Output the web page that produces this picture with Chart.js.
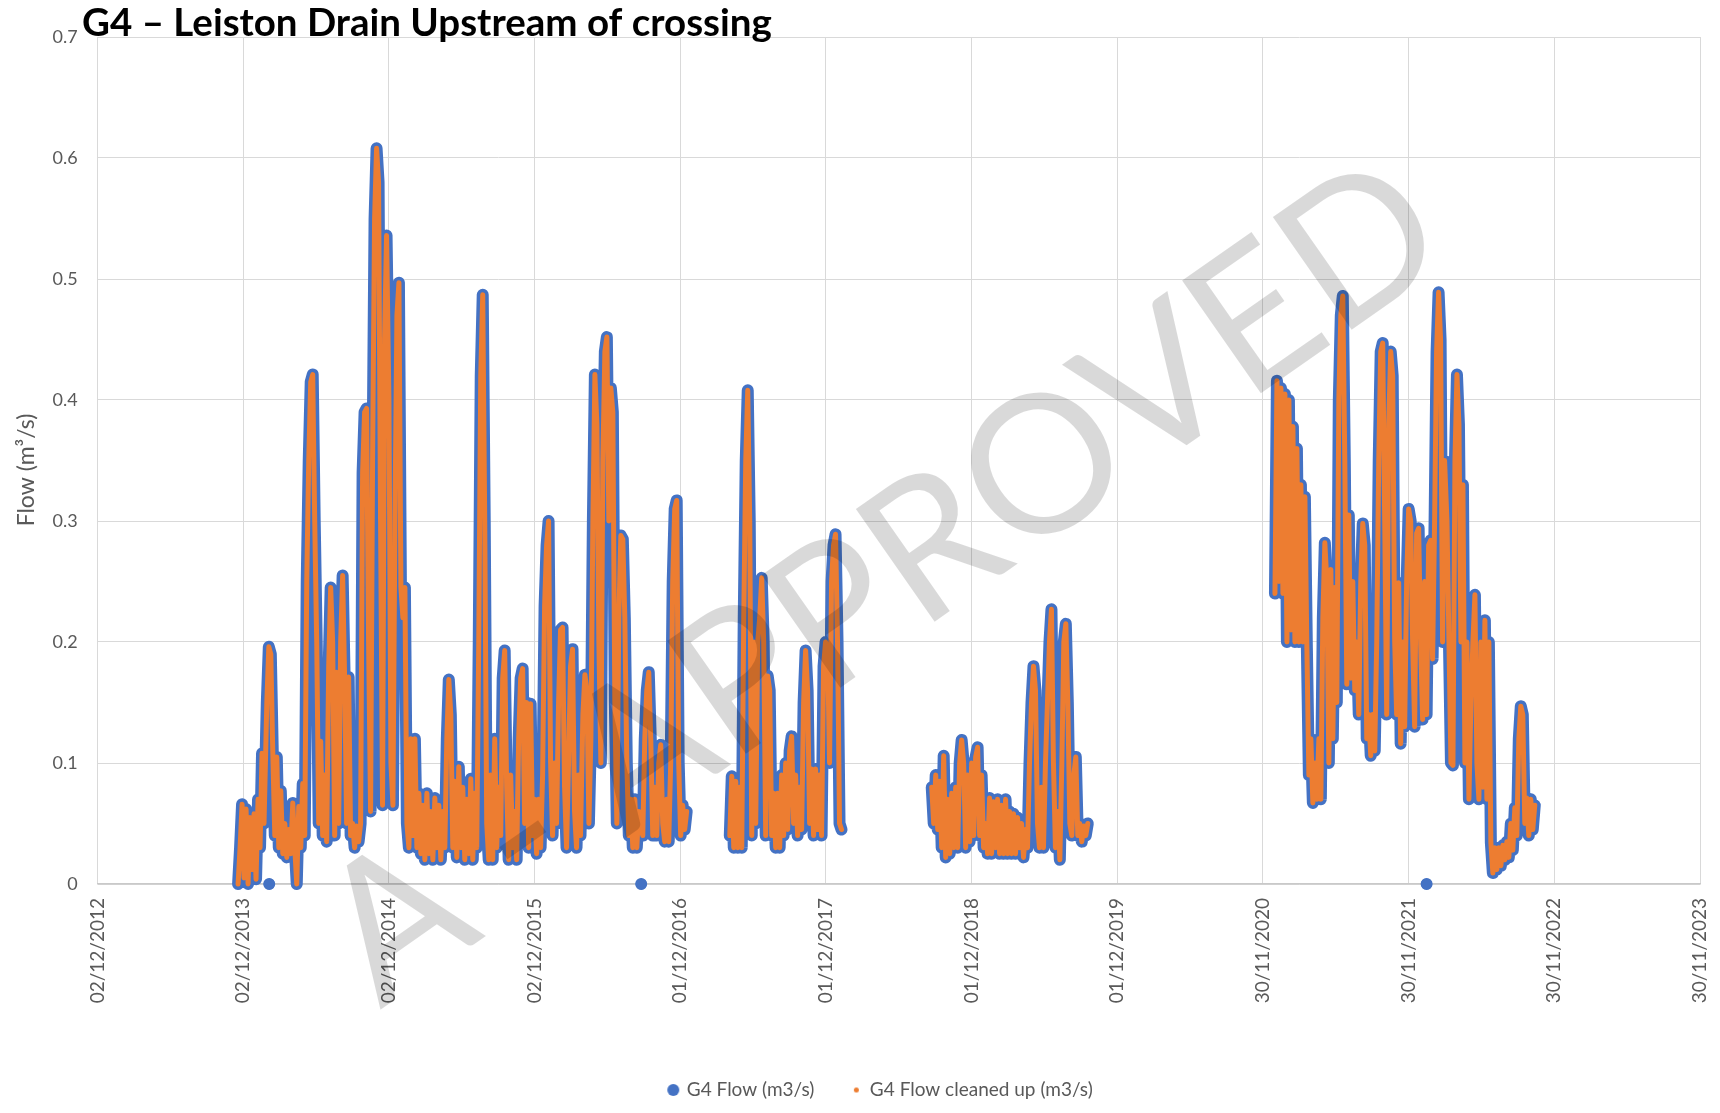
<!DOCTYPE html>
<html>
<head>
<meta charset="utf-8">
<title>G4 – Leiston Drain Upstream of crossing</title>
<script src="https://cdn.jsdelivr.net/npm/chart.js@4.4.1/dist/chart.umd.min.js"></script>
<style>
  html, body { margin: 0; padding: 0; background: #fff; }
  #flowChart { display: block; }
</style>
</head>
<body>
<canvas id="flowChart" width="1720" height="1113" style="width:1720px;height:1113px"></canvas>
<script>
const chartTitle = 'G4 – Leiston Drain Upstream of crossing';
const yAxisTitle = 'Flow (m³/s)';
const seriesNames = ['G4 Flow (m3/s)', 'G4 Flow cleaned up (m3/s)'];
const watermarkText = 'A - APPROVED';

const xTickDates = ['2012-12-02', '2013-12-02', '2014-12-02', '2015-12-02', '2016-12-01', '2017-12-01',
  '2018-12-01', '2019-12-01', '2020-11-30', '2021-11-30', '2022-11-30', '2023-11-30'];
const yTickValues = [0, 0.1, 0.2, 0.3, 0.4, 0.5, 0.6, 0.7];

// flow readings (m3/s)
const flow2013to2016 = [
  ['2013-11-19',0.000],['2013-11-24',0.030],['2013-11-29',0.066],['2013-12-04',0.005],['2013-12-09',0.062],
  ['2013-12-14',0.000],['2013-12-19',0.055],['2013-12-24',0.012],['2013-12-29',0.058],['2014-01-03',0.004],
  ['2014-01-08',0.070],['2014-01-13',0.030],['2014-01-18',0.108],['2014-01-23',0.050],['2014-01-30',0.150],
  ['2014-02-04',0.196],['2014-02-09',0.190],['2014-02-14',0.108],['2014-02-19',0.040],['2014-02-24',0.105],
  ['2014-03-01',0.030],['2014-03-06',0.077],['2014-03-11',0.025],['2014-03-16',0.050],['2014-03-21',0.022],
  ['2014-03-26',0.045],['2014-03-31',0.025],['2014-04-05',0.067],['2014-04-10',0.030],['2014-04-15',0.000],
  ['2014-04-20',0.064],['2014-04-25',0.030],['2014-04-30',0.083],['2014-05-05',0.040],['2014-05-10',0.250],
  ['2014-05-15',0.350],['2014-05-20',0.415],['2014-05-25',0.421],['2014-05-30',0.300],['2014-06-04',0.200],
  ['2014-06-09',0.050],['2014-06-14',0.118],['2014-06-19',0.040],['2014-06-24',0.090],['2014-06-29',0.035],
  ['2014-07-04',0.180],['2014-07-09',0.245],['2014-07-14',0.200],['2014-07-19',0.040],['2014-07-24',0.175],
  ['2014-07-29',0.050],['2014-08-03',0.200],['2014-08-08',0.255],['2014-08-13',0.170],['2014-08-18',0.050],
  ['2014-08-23',0.171],['2014-08-28',0.040],['2014-09-02',0.050],['2014-09-07',0.030],['2014-09-12',0.048],
  ['2014-09-17',0.035],['2014-09-22',0.050],['2014-09-27',0.340],['2014-10-02',0.390],['2014-10-07',0.393],
  ['2014-10-12',0.200],['2014-10-17',0.060],['2014-10-22',0.350],['2014-10-27',0.550],['2014-11-01',0.608],
  ['2014-11-06',0.580],['2014-11-11',0.300],['2014-11-16',0.065],['2014-11-21',0.450],['2014-11-26',0.536],
  ['2014-12-02',0.400],['2014-12-07',0.100],['2014-12-12',0.065],['2014-12-17',0.300],['2014-12-22',0.470],
  ['2014-12-27',0.497],['2015-01-01',0.245],['2015-01-06',0.220],['2015-01-11',0.245],['2015-01-16',0.050],
  ['2015-01-21',0.030],['2015-01-26',0.120],['2015-01-31',0.040],['2015-02-05',0.120],['2015-02-10',0.030],
  ['2015-02-15',0.075],['2015-02-20',0.025],['2015-02-25',0.065],['2015-03-02',0.020],['2015-03-07',0.075],
  ['2015-03-12',0.025],['2015-03-17',0.060],['2015-03-22',0.020],['2015-03-27',0.071],['2015-04-01',0.030],
  ['2015-04-06',0.065],['2015-04-11',0.020],['2015-04-16',0.060],['2015-04-21',0.030],['2015-04-26',0.120],
  ['2015-05-01',0.169],['2015-05-06',0.140],['2015-05-11',0.030],['2015-05-16',0.085],['2015-05-21',0.022],
  ['2015-05-26',0.097],['2015-05-31',0.030],['2015-06-05',0.080],['2015-06-10',0.020],['2015-06-15',0.070],
  ['2015-06-20',0.025],['2015-06-25',0.087],['2015-06-30',0.020],['2015-07-05',0.075],['2015-07-10',0.030],
  ['2015-07-15',0.200],['2015-07-20',0.420],['2015-07-25',0.487],['2015-07-30',0.300],['2015-08-04',0.050],
  ['2015-08-09',0.020],['2015-08-14',0.090],['2015-08-19',0.020],['2015-08-24',0.120],['2015-08-29',0.030],
  ['2015-09-03',0.080],['2015-09-08',0.040],['2015-09-13',0.170],['2015-09-18',0.193],['2015-09-23',0.080],
  ['2015-09-28',0.020],['2015-10-03',0.090],['2015-10-08',0.030],['2015-10-13',0.060],['2015-10-18',0.020],
  ['2015-10-23',0.120],['2015-10-28',0.170],['2015-11-02',0.178],['2015-11-07',0.050],['2015-11-12',0.150],
  ['2015-11-17',0.030],['2015-11-22',0.149],['2015-11-27',0.040],['2015-12-02',0.070],['2015-12-07',0.025],
  ['2015-12-12',0.070],['2015-12-17',0.030],['2015-12-22',0.090],['2015-12-27',0.230],['2016-01-01',0.280],
  ['2016-01-06',0.300],['2016-01-11',0.100],['2016-01-16',0.040],['2016-01-21',0.100],['2016-01-26',0.050],
  ['2016-01-31',0.150],['2016-02-05',0.210],['2016-02-10',0.212],['2016-02-15',0.080],['2016-02-20',0.030],
  ['2016-02-25',0.100],['2016-03-01',0.180],['2016-03-06',0.194],['2016-03-11',0.060],['2016-03-16',0.030],
  ['2016-03-21',0.090],['2016-03-26',0.040],['2016-04-01',0.140],['2016-04-06',0.173],['2016-04-11',0.160],
  ['2016-04-16',0.050],['2016-04-21',0.120],['2016-04-26',0.300],['2016-05-01',0.421],['2016-05-06',0.380],
  ['2016-05-11',0.200],['2016-05-16',0.100],['2016-05-21',0.350],['2016-05-26',0.440],['2016-05-31',0.452],
  ['2016-06-05',0.300],['2016-06-10',0.410],['2016-06-15',0.390],['2016-06-20',0.150],['2016-06-25',0.050],
  ['2016-06-30',0.220],['2016-07-05',0.288],['2016-07-10',0.285],['2016-07-15',0.220],['2016-07-20',0.100],
  ['2016-07-25',0.040],['2016-07-30',0.070],['2016-08-04',0.030],['2016-08-09',0.070],['2016-08-14',0.030],
  ['2016-08-19',0.060],['2016-08-29',0.040],['2016-09-03',0.120],['2016-09-08',0.160],['2016-09-13',0.175],
  ['2016-09-18',0.120],['2016-09-23',0.040],['2016-09-28',0.080],['2016-10-03',0.040],['2016-10-08',0.100],
  ['2016-10-13',0.115],['2016-10-18',0.050],['2016-10-23',0.035],['2016-10-28',0.070],['2016-11-02',0.035],
  ['2016-11-07',0.100],['2016-11-12',0.250],['2016-11-17',0.310],['2016-11-22',0.317],['2016-11-27',0.100],
  ['2016-12-02',0.040],['2016-12-07',0.065],['2016-12-12',0.045],['2016-12-17',0.060]
];

const flow2017 = [
  ['2017-04-04',0.040],['2017-04-09',0.089],['2017-04-14',0.030],['2017-04-19',0.085],['2017-04-24',0.030],
  ['2017-04-29',0.080],['2017-05-04',0.030],['2017-05-09',0.220],['2017-05-14',0.350],['2017-05-19',0.408],
  ['2017-05-24',0.300],['2017-05-29',0.040],['2017-06-03',0.200],['2017-06-08',0.050],['2017-06-13',0.200],
  ['2017-06-18',0.220],['2017-06-23',0.253],['2017-06-28',0.200],['2017-07-03',0.040],['2017-07-08',0.172],
  ['2017-07-13',0.160],['2017-07-18',0.040],['2017-07-23',0.075],['2017-07-28',0.030],['2017-08-02',0.075],
  ['2017-08-07',0.030],['2017-08-12',0.090],['2017-08-17',0.040],['2017-08-22',0.100],['2017-08-27',0.045],
  ['2017-09-01',0.110],['2017-09-06',0.122],['2017-09-11',0.050],['2017-09-16',0.090],['2017-09-21',0.040],
  ['2017-09-26',0.080],['2017-10-01',0.045],['2017-10-06',0.150],['2017-10-11',0.193],['2017-10-16',0.160],
  ['2017-10-21',0.050],['2017-10-26',0.095],['2017-10-31',0.040],['2017-11-05',0.095],['2017-11-10',0.045],
  ['2017-11-15',0.090],['2017-11-20',0.040],['2017-11-25',0.180],['2017-11-30',0.200],['2017-12-05',0.195],
  ['2017-12-10',0.100],['2017-12-15',0.250],['2017-12-20',0.280],['2017-12-25',0.289],['2017-12-30',0.200],
  ['2018-01-04',0.050],['2018-01-09',0.045]
];

const flow2018to2019 = [
  ['2018-08-23',0.080],['2018-08-28',0.050],['2018-09-02',0.090],['2018-09-07',0.045],['2018-09-12',0.085],
  ['2018-09-17',0.030],['2018-09-22',0.106],['2018-09-27',0.022],['2018-10-02',0.070],['2018-10-07',0.025],
  ['2018-10-12',0.075],['2018-10-17',0.030],['2018-10-22',0.080],['2018-10-27',0.030],['2018-11-01',0.100],
  ['2018-11-06',0.119],['2018-11-11',0.100],['2018-11-16',0.030],['2018-11-21',0.090],['2018-11-26',0.035],
  ['2018-12-01',0.100],['2018-12-06',0.040],['2018-12-11',0.105],['2018-12-16',0.113],['2018-12-21',0.040],
  ['2018-12-26',0.090],['2018-12-31',0.030],['2019-01-05',0.050],['2019-01-10',0.025],['2019-01-15',0.071],
  ['2019-01-20',0.025],['2019-01-25',0.068],['2019-01-30',0.030],['2019-02-04',0.070],['2019-02-09',0.025],
  ['2019-02-14',0.065],['2019-02-19',0.025],['2019-02-24',0.070],['2019-03-01',0.025],['2019-03-06',0.060],
  ['2019-03-11',0.025],['2019-03-16',0.058],['2019-03-21',0.025],['2019-03-26',0.055],['2019-03-31',0.030],
  ['2019-04-05',0.050],['2019-04-10',0.022],['2019-04-15',0.045],['2019-04-20',0.030],['2019-04-25',0.100],
  ['2019-04-30',0.150],['2019-05-05',0.180],['2019-05-10',0.160],['2019-05-15',0.050],['2019-05-20',0.030],
  ['2019-05-25',0.080],['2019-05-30',0.030],['2019-06-04',0.100],['2019-06-09',0.150],['2019-06-14',0.200],
  ['2019-06-19',0.227],['2019-06-24',0.100],['2019-06-29',0.030],['2019-07-05',0.060],['2019-07-10',0.020],
  ['2019-07-15',0.100],['2019-07-20',0.200],['2019-07-25',0.215],['2019-07-30',0.150],['2019-08-04',0.050],
  ['2019-08-09',0.040],['2019-08-14',0.090],['2019-08-19',0.105],['2019-08-24',0.040],['2019-08-29',0.050],
  ['2019-09-03',0.035],['2019-09-08',0.048],['2019-09-13',0.040],['2019-09-18',0.050]
];

const flow2021to2022 = [
  ['2020-12-30',0.240],['2021-01-04',0.416],['2021-01-09',0.250],['2021-01-14',0.410],['2021-01-19',0.240],
  ['2021-01-24',0.405],['2021-01-29',0.200],['2021-02-03',0.400],['2021-02-08',0.210],['2021-02-13',0.378],
  ['2021-02-18',0.200],['2021-02-23',0.360],['2021-02-28',0.200],['2021-03-05',0.330],['2021-03-10',0.200],
  ['2021-03-15',0.320],['2021-03-20',0.195],['2021-03-25',0.090],['2021-03-30',0.120],['2021-04-04',0.067],
  ['2021-04-09',0.100],['2021-04-14',0.070],['2021-04-19',0.120],['2021-04-24',0.070],['2021-04-29',0.220],
  ['2021-05-04',0.282],['2021-05-09',0.250],['2021-05-14',0.100],['2021-05-19',0.260],['2021-05-24',0.120],
  ['2021-05-29',0.245],['2021-06-03',0.150],['2021-06-08',0.400],['2021-06-13',0.470],['2021-06-18',0.486],
  ['2021-06-23',0.350],['2021-06-28',0.165],['2021-07-03',0.305],['2021-07-08',0.170],['2021-07-13',0.250],
  ['2021-07-18',0.160],['2021-07-23',0.200],['2021-07-28',0.140],['2021-08-02',0.250],['2021-08-07',0.298],
  ['2021-08-12',0.280],['2021-08-17',0.120],['2021-08-22',0.140],['2021-08-27',0.106],['2021-09-01',0.140],
  ['2021-09-06',0.110],['2021-09-11',0.200],['2021-09-16',0.350],['2021-09-21',0.440],['2021-09-26',0.447],
  ['2021-10-01',0.300],['2021-10-06',0.140],['2021-10-11',0.380],['2021-10-16',0.440],['2021-10-21',0.420],
  ['2021-10-26',0.200],['2021-10-31',0.140],['2021-11-05',0.249],['2021-11-10',0.116],['2021-11-15',0.200],
  ['2021-11-20',0.130],['2021-11-25',0.250],['2021-11-30',0.310],['2021-12-05',0.300],['2021-12-10',0.200],
  ['2021-12-15',0.130],['2021-12-20',0.290],['2021-12-25',0.294],['2021-12-30',0.200],['2022-01-04',0.136],
  ['2022-01-09',0.250],['2022-01-14',0.140],['2022-01-19',0.280],['2022-01-24',0.284],['2022-01-29',0.186],
  ['2022-02-03',0.300],['2022-02-08',0.440],['2022-02-13',0.489],['2022-02-18',0.450],['2022-02-23',0.200],
  ['2022-02-28',0.350],['2022-03-06',0.300],['2022-03-11',0.200],['2022-03-16',0.100],['2022-03-21',0.098],
  ['2022-03-26',0.350],['2022-03-31',0.421],['2022-04-05',0.380],['2022-04-10',0.200],['2022-04-15',0.330],
  ['2022-04-20',0.100],['2022-04-25',0.200],['2022-04-30',0.070],['2022-05-05',0.150],['2022-05-10',0.200],
  ['2022-05-15',0.239],['2022-05-20',0.100],['2022-05-25',0.070],['2022-05-30',0.200],['2022-06-04',0.080],
  ['2022-06-09',0.218],['2022-06-14',0.070],['2022-06-19',0.200],['2022-06-24',0.034],['2022-06-29',0.009],
  ['2022-07-04',0.030],['2022-07-09',0.012],['2022-07-14',0.030],['2022-07-19',0.015],['2022-07-24',0.032],
  ['2022-07-29',0.020],['2022-08-03',0.035],['2022-08-08',0.022],['2022-08-13',0.050],['2022-08-18',0.028],
  ['2022-08-23',0.063],['2022-08-28',0.040],['2022-09-02',0.120],['2022-09-07',0.147],['2022-09-12',0.140],
  ['2022-09-17',0.050],['2022-09-22',0.071],['2022-09-27',0.040],['2022-10-02',0.070],['2022-10-07',0.045],
  ['2022-10-12',0.065]
];

// zero readings that only appear in the raw series (dropped in the clean-up)
const zeroReadings = ['2014-02-05', '2016-08-25', '2022-01-14'];

const BLUE = '#4472C4';
const ORANGE = '#ED7D31';
const GREY_TEXT = '#595959';

// x values are days counted from the first axis date
const dayZero = Date.UTC(2012, 11, 2);
function toDay(s) {
    const [y, m, d] = s.split('-').map(Number);
    return (Date.UTC(y, m - 1, d) - dayZero) / 86400000;
}
function toLabel(s) {
    const [y, m, d] = s.split('-');
    return `${d}/${m}/${y}`;
}

// join the logger runs, with a null between them so the line breaks at the gaps
const segments = [flow2013to2016, flow2017, flow2018to2019, flow2021to2022];
const cleanedPoints = [];
segments.forEach((seg, i) => {
    if (i > 0) cleanedPoints.push({ x: toDay(seg[0][0]) - 1, y: null });
    seg.forEach(([date, v]) => cleanedPoints.push({ x: toDay(date), y: v }));
});
const rawPoints = cleanedPoints.slice();
zeroReadings.forEach(date => {
    rawPoints.push({ x: toDay(date), y: null });
    rawPoints.push({ x: toDay(date), y: 0, lone: true });
});

// little round markers for the legend (big blue, small orange like the plot)
function makeDot(r, color) {
    const c = document.createElement('canvas');
    c.width = c.height = Math.ceil(r * 2) + 2;
    const g = c.getContext('2d');
    g.fillStyle = color;
    g.beginPath();
    g.arc(c.width / 2, c.height / 2, r, 0, Math.PI * 2);
    g.fill();
    return c;
}
const legendDots = [makeDot(6, BLUE), makeDot(2.5, ORANGE)];

const overlayPlugin = {
    id: 'overlay',
    afterLayout(chart) {
        // Excel centres the legend a bit right of the canvas middle
        chart.legend.left += 31;
        chart.legend.right += 31;
    },
    afterDraw(chart) {
        const ctx = chart.ctx;

        // y axis title, centred a little below the plot middle like Excel does
        ctx.save();
        ctx.translate(27, 470);
        ctx.rotate(-Math.PI / 2);
        ctx.font = '23px Lato, "Open Sans", sans-serif';
        ctx.fillStyle = GREY_TEXT;
        ctx.textAlign = 'center';
        ctx.textBaseline = 'middle';
        ctx.fillText(yAxisTitle, 0, 0);
        ctx.restore();

        // approval stamp: ink runs 1306px along the baseline from the first A's foot
        ctx.save();
        ctx.font = '200px Lato, "Open Sans", sans-serif';
        let m = ctx.measureText(watermarkText);
        const stampSize = 200 * 1306 / (m.actualBoundingBoxLeft + m.actualBoundingBoxRight);
        ctx.font = stampSize.toFixed(1) + 'px Lato, "Open Sans", sans-serif';
        m = ctx.measureText(watermarkText);
        ctx.translate(380, 1010);
        ctx.rotate(-35 * Math.PI / 180);
        ctx.fillStyle = 'rgba(0, 0, 0, 0.15)';
        ctx.textAlign = 'left';
        ctx.textBaseline = 'alphabetic';
        ctx.fillText(watermarkText, m.actualBoundingBoxLeft, 0);
        ctx.restore();

        ctx.save();
        ctx.font = 'bold 38.5px Lato, "Open Sans", sans-serif';
        ctx.fillStyle = '#000';
        ctx.textAlign = 'left';
        ctx.textBaseline = 'alphabetic';
        ctx.fillText(chartTitle, 82, 36);
        ctx.restore();
    }
};

Chart.defaults.font.family = 'Lato, "Open Sans", sans-serif';

const ctx = document.getElementById('flowChart').getContext('2d');
const flowChart = new Chart(ctx, {
    type: 'scatter',
    data: {
        datasets: [{
            label: seriesNames[0],
            data: rawPoints,
            showLine: true,
            spanGaps: false,
            borderColor: BLUE,
            backgroundColor: BLUE,
            borderWidth: 12,
            borderJoinStyle: 'round',
            borderCapStyle: 'round',
            pointRadius: c => (c.raw && c.raw.lone) ? 5.5 : 0,
            pointBorderWidth: 0,
            pointBackgroundColor: BLUE,
            clip: false,
            order: 2
        }, {
            label: seriesNames[1],
            data: cleanedPoints,
            showLine: true,
            spanGaps: false,
            borderColor: ORANGE,
            backgroundColor: ORANGE,
            borderWidth: 5,
            borderJoinStyle: 'round',
            borderCapStyle: 'round',
            pointRadius: 0,
            clip: false,
            order: 1
        }]
    },
    options: {
        responsive: false,
        animation: false,
        events: [],
        layout: { padding: { top: 37, right: 20, bottom: 3.5, left: 0 } },
        scales: {
            x: {
                type: 'linear',
                min: toDay(xTickDates[0]),
                max: toDay(xTickDates[xTickDates.length - 1]),
                afterBuildTicks: scale => {
                    scale.ticks = xTickDates.map(d => ({ value: toDay(d) }));
                },
                afterFit: scale => {
                    scale.height = 158.5;
                    scale.paddingLeft = 0;
                    scale.paddingRight = 0;
                },
                grid: { color: '#d9d9d9', lineWidth: 1, drawTicks: false },
                border: { color: '#c9c9c9', width: 1.5 },
                ticks: {
                    autoSkip: false,
                    maxRotation: 90,
                    minRotation: 90,
                    padding: 14,
                    color: GREY_TEXT,
                    font: { size: 19 },
                    callback: (value, index) => toLabel(xTickDates[index])
                }
            },
            y: {
                min: 0,
                max: 0.7,
                afterBuildTicks: scale => {
                    scale.ticks = yTickValues.map(v => ({ value: v }));
                },
                afterFit: scale => { scale.width = 97.6; },
                grid: { color: '#d9d9d9', lineWidth: 1, drawTicks: false },
                border: { display: false },
                ticks: {
                    padding: 20,
                    color: GREY_TEXT,
                    font: { size: 18 },
                    callback: value => value === 0 ? '0' : value.toFixed(1)
                },
                title: { display: false }
            }
        },
        plugins: {
            tooltip: { enabled: false },
            legend: {
                position: 'bottom',
                labels: {
                    color: GREY_TEXT,
                    font: { size: 19 },
                    boxWidth: 8,
                    padding: 38,
                    usePointStyle: true,
                    generateLabels: chart => chart.data.datasets.map((ds, i) => ({
                        text: ds.label,
                        pointStyle: legendDots[i],
                        fillStyle: ds.borderColor,
                        strokeStyle: ds.borderColor,
                        lineWidth: 0,
                        hidden: false,
                        datasetIndex: i,
                        fontColor: GREY_TEXT
                    }))
                }
            }
        }
    },
    plugins: [overlayPlugin]
});
</script>
</body>
</html>
